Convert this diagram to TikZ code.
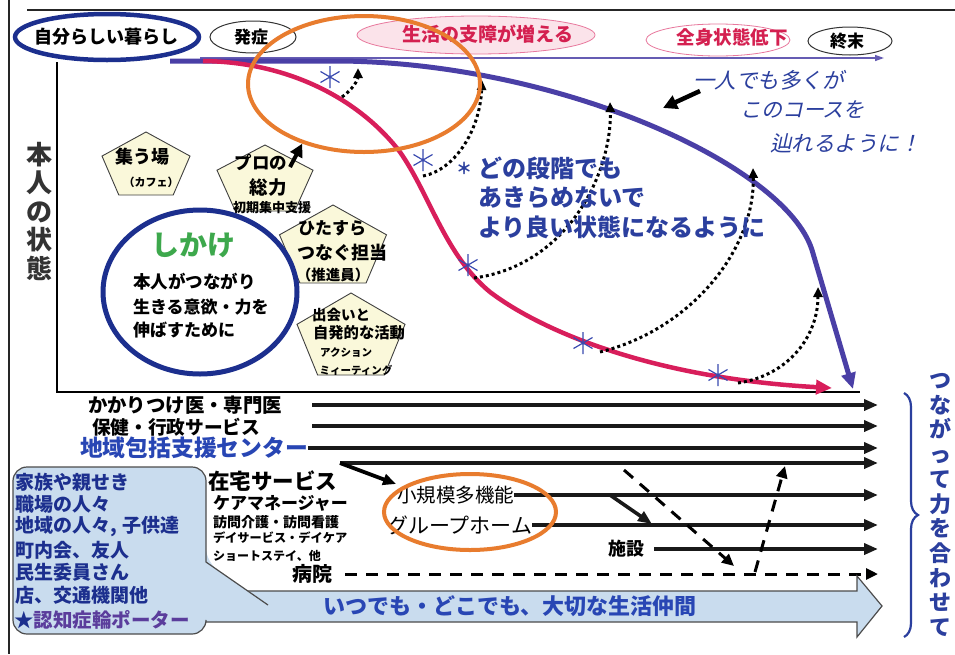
\documentclass[tikz,border=0pt]{standalone}
\usepackage{fontspec}
\setmainfont{Noto Sans CJK JP}
\newfontfamily\jpsl{Noto Sans CJK JP}[FakeSlant=0.22]
\usetikzlibrary{shapes.geometric,arrows.meta,decorations.pathreplacing}
\newcommand\fsz[2]{\fontsize{#1}{#2}\selectfont}
\definecolor{navyc}{HTML}{1C2F8E}
\definecolor{curvec}{HTML}{4A3FA6}
\definecolor{crim}{HTML}{D81E5B}
\definecolor{orng}{HTML}{E87C2E}
\definecolor{txtb}{HTML}{2B3F9E}
\definecolor{royal}{HTML}{2846B4}
\definecolor{grn}{HTML}{3DA84C}
\definecolor{pentc}{HTML}{FAF8DA}
\definecolor{callc}{HTML}{C9DCEE}
\definecolor{redt}{HTML}{D42050}
\definecolor{pinkf}{HTML}{FBE3EA}
\definecolor{purp}{HTML}{5B3D9C}
\definecolor{astc}{HTML}{3A4AB0}
\tikzset{
  lbl/.style={inner sep=0, outer sep=0},
  bl/.style={black!90, line width=3.6, -{Triangle[length=14,width=11]}},
  thickarr/.style={black, line width=4.5, -{Triangle[length=14,width=14]}},
  dotarr/.style={black, line width=3, dash pattern=on 3pt off 3pt, -{Triangle[length=10,width=9]}},
  dsharr/.style={black, line width=3, dash pattern=on 12pt off 9pt, -{Triangle[length=12,width=11]}},
  pentdraw/.style={draw=black!75, fill=pentc, line width=0.9},
  pentshape/.pic={\draw[pentdraw] (0,-0.5) -- (0.5,-0.118) -- (0.309,0.5) -- (-0.309,0.5) -- (-0.5,-0.118) -- cycle;},
  astpic/.pic={\draw[astc, line width=1.2] (0,-11) -- (0,11) (-9.5,-5.5) -- (9.5,5.5) (-9.5,5.5) -- (9.5,-5.5);},
}
\begin{document}
\begin{tikzpicture}[x=1pt,y=-1pt]
\useasboundingbox (0,0) rectangle (955,654);
\fill[white] (0,0) rectangle (955,654);
% frame
\draw[line width=1.6, black!85] (9,0) -- (9,654);
\draw[line width=1.6, black!85] (27,10) -- (955,10);
% axes
\coordinate (oy) at (57,62);
\coordinate (ox) at (57,392);
\coordinate (ax) at (860,392);
\draw[line width=1.6] (oy) -- (ox) -- (ax);
\coordinate (tl) at (200,58);
\coordinate (tr) at (884,58);
\draw[curvec!85, line width=1.3, -{Triangle[length=9,width=6]}] (tl) -- (tr);
% top ellipses
\node[ellipse, draw=navyc, line width=4.5, minimum width=184, minimum height=46, inner sep=0] (lifeE) at (107,37) {};
\node[lbl, font=\fsz{18}{20}\bfseries] (lifeT) at (106,37) {自分らしい暮らし};
\node[ellipse, draw=black!80, line width=1, minimum width=86, minimum height=32, inner sep=0] (onsetE) at (253,37) {};
\node[lbl, font=\fsz{17}{19}\bfseries] (onsetT) at (251,37) {発症};
\node[ellipse, draw=crim!60, line width=0.8, fill=pinkf, minimum width=238, minimum height=38, inner sep=0] (hindE) at (476,35) {};
\node[lbl, font=\fsz{19}{21}\bfseries, text=redt] (hindT) at (488,34) {生活の支障が増える};
\node[ellipse, draw=crim!60, line width=0.8, minimum width=144, minimum height=32, inner sep=0] (declE) at (718,40) {};
\node[lbl, font=\fsz{18.5}{21}\bfseries, text=redt] (declT) at (732,37) {全身状態低下};
\node[ellipse, draw=black!80, line width=1, minimum width=84, minimum height=28, inner sep=0] (endE) at (850,41) {};
\node[lbl, font=\fsz{17}{19}\bfseries] (endT) at (847,41) {終末};
% vertical label
\node[lbl, font=\fsz{26}{28.5}\bfseries, text=black!80, align=center] (state) at (39,211) {本\\人\\の\\状\\態};
% curves
\coordinate (bs) at (170,61);
\coordinate (be) at (853,389);
\draw[curvec, line width=5, -{Triangle[length=16,width=14]}] (bs) -- (340,61) .. controls (560,63) and (785,165) .. (812,250) -- (be);
\coordinate (ps) at (203,61);
\coordinate (pe) at (832,388);
\draw[crim, line width=4.5, -{Triangle[length=16,width=14]}] (ps) .. controls (290,62) and (360,100) .. (400,152) .. controls (430,195) and (445,255) .. (490,292) .. controls (540,330) and (650,378) .. (pe);
% asterisks
\pic (as1) at (330,77) {astpic};
\pic (as2) at (423,160) {astpic};
\pic (as3) at (468,265) {astpic};
\pic (as4) at (583,343) {astpic};
\pic (as5) at (718,375) {astpic};
% dotted arrows
\coordinate (d1a) at (342,97);  \coordinate (d1b) at (358,68);
\coordinate (d2a) at (423,176); \coordinate (d2b) at (482,80);
\coordinate (d3a) at (474,278); \coordinate (d3b) at (610,102);
\coordinate (d4a) at (600,352); \coordinate (d4b) at (753,168);
\coordinate (d5a) at (738,383); \coordinate (d5b) at (818,287);
\draw[dotarr] (d1a) .. controls (352,90) and (358,80) .. (d1b);
\draw[dotarr] (d2a) .. controls (455,170) and (480,130) .. (d2b);
\draw[dotarr] (d3a) .. controls (570,265) and (612,170) .. (d3b);
\draw[dotarr] (d4a) .. controls (690,330) and (755,250) .. (d4b);
\draw[dotarr] (d5a) .. controls (790,375) and (818,335) .. (d5b);
% orange big ellipse
\node[ellipse, draw=orng, line width=4, minimum width=232, minimum height=136, inner sep=0] (orE) at (364,84) {};
% right slanted text
\node[lbl, anchor=west, font=\fsz{21.5}{24}\jpsl, text=txtb] (one1) at (693,80) {一人でも多くが};
\node[lbl, anchor=west, font=\fsz{21}{24}\jpsl, text=txtb] (one2) at (740,110) {このコースを};
\node[lbl, anchor=west, font=\fsz{21.5}{24}\jpsl, text=txtb] (one3) at (770,143) {辿れるように！};
\coordinate (ar1s) at (700,91);
\coordinate (ar1e) at (663,108);
\draw[thickarr] (ar1s) -- (ar1e);
% middle blue text
\node[lbl, font=\fsz{16}{18}\bfseries, text=txtb] (astT) at (464,168) {＊};
\node[lbl, anchor=west, font=\fsz{24}{26}\bfseries, text=txtb] (mid1) at (478,168) {どの段階でも};
\node[lbl, anchor=west, font=\fsz{24}{26}\bfseries, text=txtb] (mid2) at (478,198) {あきらめないで};
\node[lbl, anchor=west, font=\fsz{24}{26}\bfseries, text=txtb] (mid3) at (478,227) {より良い状態になるように};
% pentagons
\pic[xscale=88,yscale=63] (pent1) at (146,163.5) {pentshape};
\node[lbl, font=\fsz{18}{20}\bfseries] (p1a) at (142,157) {集う場};
\node[lbl, font=\fsz{11}{13}\bfseries] (p1b) at (151,182) {（カフェ）};
\pic[xscale=96,yscale=66] (pent2) at (265,178) {pentshape};
\node[lbl, font=\fsz{17.5}{20}\bfseries] (p2a) at (261,163) {プロの};
\node[lbl, font=\fsz{18.5}{20}\bfseries] (p2b) at (268,188) {総力};
\node[lbl, font=\fsz{13}{15}\bfseries] (p2c) at (272,208) {初期集中支援};
\pic[xscale=107,yscale=78] (pent3) at (333,244) {pentshape};
\node[lbl, font=\fsz{17}{19}\bfseries] (p3a) at (332,228) {ひたすら};
\node[lbl, font=\fsz{18}{20}\bfseries] (p3b) at (342,253) {つなぐ担当};
\node[lbl, font=\fsz{14.5}{16}\bfseries] (p3c) at (333,275) {（推進員）};
\pic[xscale=108,yscale=82] (pent4) at (351,334) {pentshape};
\node[lbl, font=\fsz{14.5}{16}\bfseries] (p4a) at (341,315) {出会いと};
\node[lbl, font=\fsz{15.3}{17}\bfseries] (p4b) at (359,333) {自発的な活動};
\node[lbl, font=\fsz{10.5}{12}\bfseries] (p4c) at (346,353) {アクション};
\node[lbl, font=\fsz{10.5}{12}\bfseries] (p4d) at (356,370) {ミィーティング};
\coordinate (proTail) at (290,167);
\draw[black, line width=4, -{Triangle[length=13,width=13]}] (proTail) -- (orE.224);
% shikake circle
\node[ellipse, draw=navyc, line width=5, minimum width=194, minimum height=164, inner sep=0] (shikake) at (200,292) {};
\node[lbl, font=\fsz{28}{30}\bfseries, text=grn] (shikT) at (193,245) {しかけ};
\node[lbl, anchor=west, font=\fsz{17.5}{20}\bfseries] (sk1) at (133,282) {本人がつながり};
\node[lbl, anchor=west, font=\fsz{17}{20}\bfseries] (sk2) at (133,307) {生きる意欲・力を};
\node[lbl, anchor=west, font=\fsz{17}{20}\bfseries] (sk3) at (133,330) {伸ばすために};
% bottom labels
\node[lbl, anchor=west, font=\fsz{19.4}{21}\bfseries] (doc) at (88,405) {かかりつけ医・専門医};
\node[lbl, anchor=west, font=\fsz{18.7}{21}\bfseries] (health) at (92,427) {保健・行政サービス};
\node[lbl, anchor=west, font=\fsz{22.8}{25}\bfseries, text=royal] (hok) at (80,448) {地域包括支援センター};
\node[lbl, anchor=west, font=\fsz{21.5}{24}\bfseries] (home) at (208,481) {在宅サービス};
\node[lbl, anchor=west, font=\fsz{17}{19}\bfseries] (cm) at (213,503) {ケアマネージャー};
\node[lbl, anchor=west, font=\fsz{14}{16}\bfseries] (hv) at (213,522) {訪問介護・訪問看護};
\node[lbl, anchor=west, font=\fsz{12.2}{14}\bfseries] (ds) at (213,538) {デイサービス・デイケア};
\node[lbl, anchor=west, font=\fsz{12}{14}\bfseries] (ss) at (213,556) {ショートステイ、他};
\node[lbl, anchor=west, font=\fsz{20}{22}\bfseries] (hosp) at (292,574) {病院};
\node[lbl, anchor=west, font=\fsz{19.5}{22}] (small) at (397,495) {小規模多機能};
\node[lbl, anchor=west, font=\fsz{21}{23}] (gh) at (387,525) {グループホーム};
\node[lbl, anchor=west, font=\fsz{18}{20}\bfseries] (fac) at (608,549) {施設};
% horizontal arrows
\coordinate (l1s) at (312,405); \coordinate (l1e) at (878,405);
\coordinate (l2s) at (312,426); \coordinate (l2e) at (878,426);
\coordinate (l3e) at (878,448);
\coordinate (l4s) at (340,463); \coordinate (l4e) at (878,463);
\coordinate (l5e) at (878,495);
\coordinate (l6e) at (878,525);
\coordinate (l7s) at (654,549); \coordinate (l7e) at (878,549);
\coordinate (l8s) at (345,574); \coordinate (l8e) at (878,574);
\draw[bl] (l1s) -- (l1e);
\draw[bl] (l2s) -- (l2e);
\draw[bl] (hok.east) -- (l3e);
\draw[bl] (l4s) -- (l4e);
\draw[bl] (small.east) -- (l5e);
\draw[bl] (gh.east) -- (l6e);
\draw[bl] (l7s) -- (l7e);
\draw[dsharr] (l8s) -- (l8e);
\coordinate (z1e) at (396,484);
\draw[black, line width=3.8, -{Triangle[length=13,width=11]}] (l4s) -- (z1e);
\coordinate (dg1s) at (610,495); \coordinate (dg1e) at (652,524);
\coordinate (dg2s) at (624,470); \coordinate (dg2e) at (734,566);
\coordinate (dg3s) at (755,572); \coordinate (dg3e) at (785,466);
\draw[bl] (dg1s) -- (dg1e);
\draw[dsharr] (dg2s) -- (dg2e);
\draw[dsharr] (dg3s) -- (dg3e);
% orange bottom ellipse
\node[ellipse, draw=orng, line width=4, minimum width=172, minimum height=76, inner sep=0] (orB) at (470,512) {};
% big arrow
\draw[fill=callc, draw=black!70, line width=1.2] (190,591) -- (857,591) -- (857,576) -- (882,606) -- (857,637) -- (857,622) -- (190,622) -- cycle;
\node[lbl, font=\fsz{22}{24}\bfseries, text=royal] (always) at (510,606) {いつでも・どこでも、大切な生活仲間};
% callout
\fill[callc, rounded corners=14] (13,467) -- (206,467) -- (206,562) [sharp corners] -- (268,605) -- (206,612) [rounded corners=14] -- (206,634) -- (13,634) -- cycle;
\draw[black!70, line width=1.2] (268,605) -- (206,562) [rounded corners=14] -- (206,467) -- (13,467) -- (13,634) -- (206,634) [sharp corners] -- (206,622);
\node[lbl, anchor=west, font=\fsz{19}{21}\bfseries, text=navyc] (c1) at (16,482) {家族や親せき};
\node[lbl, anchor=west, font=\fsz{19}{21}\bfseries, text=navyc] (c2) at (16,504) {職場の人々};
\node[lbl, anchor=west, font=\fsz{19}{21}\bfseries, text=navyc] (c3) at (16,527) {地域の人々, 子供達};
\node[lbl, anchor=west, font=\fsz{19}{21}\bfseries, text=navyc] (c4) at (16,550) {町内会、友人};
\node[lbl, anchor=west, font=\fsz{19}{21}\bfseries, text=navyc] (c5) at (16,572) {民生委員さん};
\node[lbl, anchor=west, font=\fsz{19}{21}\bfseries, text=navyc] (c6) at (16,595) {店、交通機関他};
\node[lbl, anchor=west, font=\fsz{19.5}{21}\bfseries, text=purp] (c7) at (14,620) {{\color{navyc}★}認知症輪ポーター};
% brace and vertical text
\coordinate (bt) at (904,393);
\coordinate (bb) at (904,637);
\draw[txtb, line width=2.2, decorate, decoration={brace, amplitude=14, aspect=0.5}] (bt) -- (bb);
\node[lbl, font=\fsz{22}{24.7}\bfseries, text=txtb, align=center] (join) at (940,505) {つ\\な\\が\\っ\\て\\力\\を\\合\\わ\\せ\\て};
\end{tikzpicture}
\end{document}
